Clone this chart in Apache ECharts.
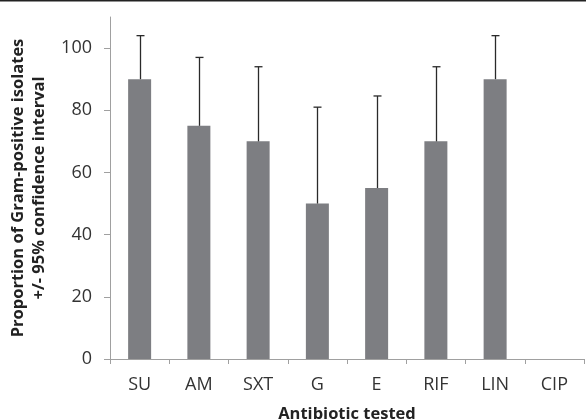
<!DOCTYPE html>
<html>
<head>
<meta charset="utf-8">
<script src="https://cdn.jsdelivr.net/npm/echarts@6/dist/echarts.min.js"></script>
<style>
  html, body { margin: 0; padding: 0; background: #fff; }
  #chart { width: 586px; height: 420px; }
</style>
</head>
<body>
<div id="chart"></div>
<script>
const categories = ['SU', 'AM', 'SXT', 'G', 'E', 'RIF', 'LIN', 'CIP'];
const proportions = [90, 75, 70, 50, 55, 70, 90, 0];
const upperCI = [104, 97, 94, 81, 84.6, 94, 104, null];
const yTicks = [0, 20, 40, 60, 80, 100];

const chart = echarts.init(document.getElementById('chart'));

const errorData = categories.map((c, i) => [i, proportions[i], upperCI[i]]);

const option = {
  animation: false,
  textStyle: { fontFamily: 'Open Sans' },
  grid: { left: 110, right: 2, top: 17, bottom: 61, outerBoundsMode: 'none', containLabel: false },
  graphic: [{
    type: 'rect',
    shape: { x: 0, y: 0, width: 586, height: 1.5 },
    style: { fill: '#222' }
  }],
  xAxis: {
    type: 'category',
    data: categories,
    name: 'Antibiotic tested',
    nameLocation: 'middle',
    nameGap: 47,
    nameTextStyle: { fontFamily: 'Open Sans', fontWeight: 'bold', fontSize: 16.5, color: '#222' },
    axisLine: { lineStyle: { color: '#a0a0a0', width: 1 } },
    axisTick: { show: true, length: 5, lineStyle: { color: '#a0a0a0' } },
    axisLabel: { fontFamily: 'Open Sans', fontSize: 18, color: '#333', margin: 17 }
  },
  yAxis: {
    type: 'value',
    min: 0,
    max: 110,
    name: 'Proportion of Gram-positive isolates\n+/- 95% confidence interval',
    nameLocation: 'middle',
    nameGap: 58,
    nameTextStyle: { fontFamily: 'Open Sans', fontWeight: 'bold', fontSize: 16.5, color: '#222', lineHeight: 21 },
    axisLine: { show: true, lineStyle: { color: '#a0a0a0', width: 1 } },
    axisTick: { show: true, length: 6, customValues: yTicks, lineStyle: { color: '#a0a0a0' } },
    axisLabel: { fontFamily: 'Open Sans', fontSize: 18, color: '#333', margin: 18, customValues: yTicks },
    splitLine: { show: false }
  },
  series: [
    {
      type: 'bar',
      data: proportions,
      barWidth: 23,
      itemStyle: { color: '#7d7e82' }
    },
    {
      type: 'custom',
      data: errorData,
      z: 5,
      renderItem: (params, api) => {
        const hi = api.value(2);
        if (hi === null || hi === undefined || isNaN(hi)) return null;
        const base = api.coord([api.value(0), api.value(1)]);
        const top = api.coord([api.value(0), hi]);
        const x = Math.round(base[0]) + 0.5;
        const style = { stroke: '#2a2a2a', lineWidth: 1.3 };
        return {
          type: 'group',
          children: [
            { type: 'line', shape: { x1: x, y1: base[1], x2: x, y2: top[1] }, style },
            { type: 'line', shape: { x1: x - 4, y1: top[1], x2: x + 4, y2: top[1] }, style }
          ]
        };
      }
    }
  ]
};

chart.setOption(option);
</script>
</body>
</html>
